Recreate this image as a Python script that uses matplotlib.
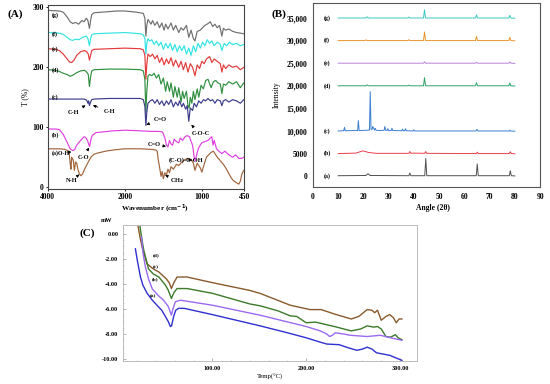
import numpy as np
import matplotlib
matplotlib.use("Agg")
import matplotlib.pyplot as plt
from matplotlib.ticker import FixedLocator, MultipleLocator, FuncFormatter

plt.rcParams['font.family'] = ['Liberation Serif', 'DejaVu Serif']
plt.rcParams['font.weight'] = 'bold'
plt.rcParams['axes.unicode_minus'] = False

# ---------------- (A) FTIR data ----------------
g_w = [3990, 3700, 3600, 3500, 3420, 3350, 3280, 3200, 3120, 3060, 3000, 2960, 2920, 2890, 2860, 2800,
       2600, 2400, 2200, 2000, 1850, 1760, 1740, 1727, 1715, 1700, 1680, 1660, 1640, 1610, 1580, 1550,
       1520, 1490, 1470, 1440, 1400, 1370, 1340, 1300, 1270, 1240, 1200, 1170, 1140, 1110, 1090, 1060,
       1020, 1000, 960, 920, 890, 860, 830, 800, 770, 740, 720, 690, 650, 600, 550, 500, 455]
g_t = [295, 294, 292, 284, 276, 273, 275, 272, 278, 276, 282, 278, 265, 278, 288, 291,
       292, 293, 294, 294, 292, 290, 282, 252, 270, 280, 276, 272, 278, 270, 276, 266,
       274, 262, 272, 264, 274, 262, 270, 258, 266, 262, 270, 250, 262, 248, 244, 260,
       262, 265, 270, 273, 276, 268, 272, 266, 270, 252, 265, 262, 264, 260, 258, 257, 256]

f_w = [3990, 3700, 3600, 3500, 3420, 3350, 3280, 3200, 3100, 3000, 2960, 2920, 2890, 2860, 2800, 2400,
       2000, 1800, 1760, 1740, 1727, 1715, 1700, 1680, 1650, 1620, 1590, 1560, 1530, 1500, 1470, 1440,
       1410, 1380, 1350, 1320, 1290, 1260, 1230, 1200, 1170, 1140, 1110, 1080, 1050, 1020, 990, 960,
       930, 900, 870, 840, 800, 760, 740, 710, 680, 640, 600, 550, 500, 455]
f_t = [258, 257, 255, 250, 246, 245, 247, 246, 250, 252, 248, 236, 248, 254, 256, 257,
       258, 256, 254, 248, 222, 240, 248, 244, 246, 238, 244, 236, 242, 230, 240, 232,
       240, 228, 238, 226, 236, 228, 236, 222, 232, 220, 236, 226, 240, 232, 242, 236,
       246, 240, 244, 236, 242, 238, 228, 240, 236, 242, 238, 240, 236, 238]

e_w = [3990, 3800, 3700, 3600, 3500, 3440, 3380, 3320, 3250, 3150, 3050, 2990, 2950, 2920, 2890, 2860,
       2800, 2400, 2000, 1800, 1760, 1740, 1727, 1715, 1700, 1670, 1640, 1610, 1580, 1550, 1520, 1490,
       1460, 1430, 1400, 1370, 1340, 1300, 1270, 1240, 1210, 1180, 1150, 1120, 1090, 1060, 1030, 1000,
       970, 940, 900, 870, 840, 800, 760, 740, 720, 690, 650, 600, 550, 500, 455]
e_t = [231, 230, 228, 222, 214, 209, 208, 212, 220, 226, 228, 226, 222, 212, 220, 228,
       230, 231, 232, 231, 229, 220, 180, 205, 222, 218, 222, 214, 220, 208, 216, 204,
       214, 206, 216, 202, 212, 200, 210, 196, 208, 192, 206, 200, 186, 204, 198, 210,
       206, 214, 218, 208, 214, 210, 206, 192, 204, 198, 204, 200, 202, 196, 200]

d_w = [3990, 3800, 3700, 3600, 3500, 3420, 3350, 3250, 3150, 3050, 2990, 2950, 2920, 2890, 2860, 2800,
       2400, 2000, 1800, 1760, 1740, 1727, 1715, 1700, 1680, 1650, 1620, 1590, 1560, 1530, 1500, 1470,
       1450, 1420, 1400, 1370, 1350, 1320, 1300, 1270, 1250, 1230, 1200, 1180, 1165, 1150, 1130, 1110,
       1090, 1060, 1040, 1010, 980, 950, 920, 880, 850, 820, 790, 760, 740, 720, 690, 650, 600, 550,
       500, 455]
d_t = [196, 195, 193, 190, 188, 185, 187, 191, 194, 195, 192, 188, 168, 184, 194, 196,
       197, 197, 196, 194, 180, 125, 160, 185, 188, 186, 190, 182, 188, 172, 182, 160,
       176, 160, 174, 150, 168, 150, 166, 142, 160, 148, 160, 136, 132, 150, 140, 160,
       146, 164, 150, 170, 164, 178, 180, 166, 176, 178, 174, 172, 156, 172, 170, 176, 172, 176,
       166, 174]

c_w = [3990, 3500, 3200, 3050, 2990, 2960, 2940, 2920, 2890, 2860, 2800, 2400, 2000, 1800, 1760, 1740,
       1727, 1715, 1700, 1670, 1640, 1610, 1580, 1550, 1520, 1490, 1460, 1430, 1400, 1370, 1340, 1310,
       1290, 1260, 1240, 1210, 1190, 1170, 1150, 1120, 1100, 1070, 1040, 1010, 980, 950, 920, 890,
       860, 830, 800, 760, 740, 720, 690, 650, 600, 550, 500, 455]
c_t = [147, 147, 147, 147, 145, 140, 144, 136, 142, 146, 147, 148, 148, 148, 146, 135,
       103, 125, 140, 144, 146, 140, 146, 138, 144, 136, 144, 138, 146, 134, 142, 136,
       144, 134, 140, 130, 136, 110, 132, 128, 140, 134, 144, 140, 146, 144, 148, 144,
       146, 140, 146, 144, 136, 144, 146, 142, 146, 144, 140, 146]

b_w = [3990, 3800, 3700, 3600, 3500, 3420, 3350, 3300, 3250, 3150, 3060, 3020, 2970, 2930, 2915, 2880,
       2850, 2750, 2600, 2300, 2000, 1800, 1650, 1560, 1510, 1480, 1460, 1440, 1420, 1400, 1380, 1360,
       1330, 1300, 1280, 1250, 1220, 1190, 1160, 1140, 1120, 1100, 1085, 1060, 1040, 1000, 960, 920,
       890, 870, 855, 840, 810, 780, 740, 700, 650, 600, 560, 520, 480, 455]
b_t = [97, 97, 96, 88, 75, 64, 61, 63, 70, 78, 84, 83, 78, 70, 68, 80,
       86, 91, 92, 94, 95, 94, 93, 93, 92, 82, 70, 67, 78, 72, 70, 80,
       76, 74, 82, 78, 84, 86, 84, 76, 70, 50, 44, 58, 66, 74, 76, 78,
       82, 84, 70, 78, 64, 60, 56, 60, 54, 50, 54, 48, 48, 50]

a_w = [3990, 3700, 3560, 3450, 3420, 3400, 3380, 3340, 3310, 3280, 3250, 3220, 3180, 3140, 3100, 3030,
       2950, 2880, 2800, 2700, 2500, 2300, 2000, 1800, 1650, 1600, 1580, 1565, 1545, 1530, 1515, 1500,
       1480, 1460, 1440, 1420, 1400, 1370, 1330, 1300, 1260, 1220, 1180, 1140, 1110, 1090, 1060, 1040,
       1020, 1000, 970, 940, 910, 880, 850, 830, 800, 760, 720, 680, 640, 600, 560, 520, 500, 480, 455]
a_t = [64, 64, 63, 60, 40, 30, 50, 45, 28, 42, 40, 30, 22, 19, 22, 32,
       42, 50, 55, 57, 60, 62, 64, 64, 63, 62, 60, 45, 30, 18, 26, 14,
       24, 20, 30, 24, 34, 30, 38, 36, 42, 46, 48, 46, 40, 28, 40, 36,
       32, 25, 38, 50, 54, 58, 60, 56, 50, 44, 38, 30, 20, 12, 8, 5, 10, 22, 28]

ftir_series = [(g_w, g_t, '#6f6f6f', '(g)', 287),
               (f_w, f_t, '#33e3e3', '(f)', 256),
               (e_w, e_t, '#e23a3a', '(e)', 230),
               (d_w, d_t, '#2f8f3f', '(d)', 195),
               (c_w, c_t, '#3c3c8c', '(c)', 150),
               (b_w, b_t, '#e040e0', '(b)', 86),
               (a_w, a_t, '#a0643c', '(a)O-H', 57)]
ftir_ticks = [4000, 2000, 1000, 450]

# ---------------- (B) XRD data ----------------
xa_x = [10, 21, 21.8, 22.6, 38.0, 38.4, 38.8, 44.3, 44.7, 45.1, 64.7, 65.1, 65.5, 77.8, 78.2, 78.6, 80]
xa_y = [100, 150, 550, 150, 100, 700, 100, 100, 3900, 100, 100, 2700, 100, 100, 1200, 100, 50]
xb_x = [10, 17, 19.8, 22, 25, 38.0, 38.4, 38.8, 40, 44.3, 44.7, 45.1, 64.7, 65.1, 65.5, 77.8, 78.2, 78.6, 80]
xb_y = [5000, 5100, 5600, 5250, 5050, 5050, 5450, 5050, 5100, 5050, 5450, 5050, 5000, 5300, 5000, 5000, 5400,
        5000, 4950]
xc_x = [10, 12.2, 12.5, 12.8, 17.7, 18.0, 18.3, 21, 22.4, 22.7, 23.0, 23.4, 23.7, 24.4, 24.7, 25.0, 27, 28.2,
        28.5, 28.8, 29.4, 29.7, 30.0, 31.0, 31.3, 31.6, 35.2, 35.5, 35.8, 36.4, 36.7, 37.0, 39.6, 39.9, 40.2,
        64.6, 65.0, 65.4, 77.8, 78.1, 78.4, 80]
xc_y = [10000, 10050, 10800, 10050, 10100, 12300, 10100, 10150, 10200, 18700, 10400, 10300, 11000, 10200, 10600,
        10150, 10100, 10150, 11000, 10150, 10100, 10500, 10100, 10100, 10600, 10100, 10050, 10400, 10050, 10050,
        10500, 10050, 10000, 10250, 10000, 10000, 10350, 10000, 10000, 10150, 10000, 9950]
xd_x = [10, 21, 21.5, 22, 37.6, 38, 38.4, 43.8, 44.2, 44.6, 64.4, 64.8, 65.2, 77.6, 78.0, 78.4, 80]
xd_y = [20000, 20000, 20200, 20000, 20000, 20150, 20000, 20000, 21800, 20000, 20000, 20700, 20000, 20000, 20600,
        20000, 19950]
xe_x = [10, 43.8, 44.2, 44.6, 64.4, 64.8, 65.2, 77.6, 78.0, 78.4, 80]
xe_y = [25000, 25000, 25300, 25000, 25000, 25200, 25000, 25000, 25250, 25000, 24950]
xf_x = [10, 20.5, 21, 21.5, 37.6, 38, 38.4, 43.8, 44.2, 44.6, 64.4, 64.8, 65.2, 77.6, 78.0, 78.4, 80]
xf_y = [30000, 30000, 30150, 30000, 30000, 30200, 30000, 30000, 31900, 30000, 30000, 30900, 30000, 30000, 30700,
        30000, 29950]
xg_x = [10, 21, 21.5, 22, 37.6, 38, 38.4, 43.8, 44.2, 44.6, 64.4, 64.8, 65.2, 77.6, 78.0, 78.4, 80]
xg_y = [35000, 35000, 35250, 35000, 35000, 35200, 35000, 35000, 36800, 35000, 35000, 35700, 35000, 35000, 35600,
        35000, 34950]

xrd_series = [(xa_x, xa_y, '#505050', '(a)', 0),
              (xb_x, xb_y, '#ea3f4a', '(b)', 5000),
              (xc_x, xc_y, '#3a7fd2', '(c)', 10000),
              (xd_x, xd_y, '#2ea36a', '(d)', 20000),
              (xe_x, xe_y, '#b682d8', '(e)', 25000),
              (xf_x, xf_y, '#e8952e', '(f)', 30000),
              (xg_x, xg_y, '#3cc8c0', '(g)', 35000)]
xrd_yticks = [0, 5000, 10000, 15000, 20000, 25000, 30000, 35000]
xrd_ylabels = ['0', '5000', '10,000', '15,000', '20,000', '25,000', '30,000', '35,000']

# ---------------- (C) DSC data ----------------
ta = [18, 20, 23.4, 26, 30.5, 36, 41, 46, 50, 53, 55.3, 56.5, 58.8, 61, 64, 70, 76, 100, 151, 180, 200, 215,
      222, 235, 245, 254, 260, 265, 270, 275, 289, 302]
ma = [-1.2, -2.1, -3.45, -4.1, -4.75, -5.3, -5.7, -6.1, -6.6, -7.0, -7.4, -7.35, -6.6, -6.1, -5.95, -5.95, -6.05,
      -6.45, -7.35, -7.9, -8.3, -8.65, -8.8, -8.85, -9.1, -9.3, -9.2, -9.05, -9.2, -9.5, -9.7, -10.1]
tb = [24.5, 26, 28.7, 32, 36, 42, 48, 53, 55, 56.4, 58, 60.6, 66, 100, 151, 200, 215, 222, 225, 228, 231, 240,
      247, 265, 279, 290, 302]
mb = [-0.24, -1.5, -2.65, -3.6, -4.4, -4.9, -5.3, -5.8, -6.2, -6.5, -6.0, -5.42, -5.3, -5.7, -6.5, -7.4, -7.75,
      -8.0, -8.2, -8.1, -7.9, -8.0, -8.1, -8.2, -8.1, -8.3, -8.5]
tc = [21, 22.7, 25, 27, 32, 37, 43, 50, 53, 56.4, 59, 62.4, 73, 100, 140, 151, 170, 183, 190, 200, 210, 230,
      248, 258, 265, 272, 276, 280, 285, 290, 295, 298, 302]
mc = [2.0, 0.7, -0.5, -1.35, -2.8, -3.2, -3.45, -4.1, -4.5, -5.16, -4.7, -4.37, -4.37, -4.75, -5.6, -5.75,
      -6.15, -6.55, -6.6, -7.1, -7.05, -7.4, -7.75, -7.6, -7.35, -7.45, -7.4, -7.6, -8.2, -8.25, -8.05, -8.3,
      -8.45]
td = [19, 20.6, 23, 25.2, 30.5, 37, 43, 51, 54, 56.4, 59, 62.4, 73, 100, 140, 151, 183, 204, 216, 230, 248,
      256, 265, 270, 273, 276, 280, 285, 289, 293, 296, 299, 302]
md = [2.5, 0.7, -0.3, -1.08, -2.4, -2.8, -3.05, -3.6, -3.9, -4.37, -3.9, -3.45, -3.45, -3.9, -4.52, -4.76,
      -5.7, -6.05, -6.05, -6.4, -6.8, -6.6, -6.05, -6.1, -6.3, -6.1, -6.9, -6.6, -6.45, -6.7, -7.1, -6.8, -6.8]

dsc_series = [(td, md, '#8a5a2e', '(d)', 37, -1.7),
              (tc, mc, '#3c7a2a', '(c)', 36, -2.65),
              (tb, mb, '#9a6af0', '(b)', 35, -3.6),
              (ta, ma, '#3030d0', '(a)', 33, -5.0)]

fig = plt.figure(figsize=(5.5, 3.84), dpi=100)
fs = 5.5

# ---------- panel A ----------
def fwd(w):
    w = np.asarray(w, dtype=float)
    return np.where(w >= 2000, w, 2 * w - 2000)

def inv(v):
    v = np.asarray(v, dtype=float)
    return np.where(v >= 2000, v, (v + 2000) / 2)

axA = fig.add_axes([0.087, 0.508, 0.357, 0.479])
axA.set_xscale('function', functions=(fwd, inv))
for w, t, col, lab, ly in ftir_series:
    axA.plot(w, t, color=col, lw=0.85)
    axA.text(3900, ly, lab, fontsize=4.2, va='center', ha='left')
axA.set_xlim(4000, 450)
axA.set_ylim(-3, 304)
axA.xaxis.set_major_locator(FixedLocator(ftir_ticks))
axA.xaxis.set_minor_locator(FixedLocator([]))
axA.xaxis.set_major_formatter(FuncFormatter(lambda v, p: '%d' % round(v)))
axA.set_yticks([0, 100, 200, 300])
axA.tick_params(labelsize=fs, length=1.5, width=0.6, pad=1.5)
for s in axA.spines.values():
    s.set_color('#444444')
    s.set_linewidth(0.8)
axA.set_ylabel('T (%)', fontsize=fs, labelpad=2)

arr = dict(arrowstyle='-|>', color='black', lw=0.6, mutation_scale=4)
notes = [('C-H', (3490, 124), (2960, 139)),
         ('C-H', (2560, 127), (2900, 138)),
         ('C=O', (1630, 113), (1722, 104)),
         ('C-O-C', (1130, 89), (1165, 107)),
         ('C=O', (1700, 71), (1465, 68)),
         ('(C-O)-C-OH', (1430, 45), (1090, 46)),
         ('CH$_2$', (1410, 11), (1478, 20)),
         ('C-O', (3230, 50), (2930, 66)),
         ('N-H', (3540, 11), (3180, 21))]
for txt, xyt, xy in notes:
    axA.annotate(txt, xy=xy, xytext=xyt, fontsize=4.6, ha='left', va='center', arrowprops=arr)
axA.annotate('', xy=(3320, 60), xytext=(3530, 57), arrowprops=arr)
fig.text(155 / 550, 1 - 209 / 384, 'Wavenumber (cm$^{-1}$)', fontsize=5.2, ha='center', va='center')
fig.text(8 / 550, 1 - 14 / 384, '(A)', fontsize=8, ha='left', va='center')

# ---------- panel B ----------
axB = fig.add_axes([0.569, 0.513, 0.413, 0.479])
for x, y, col, lab, base in xrd_series:
    axB.plot(x, y, color=col, lw=0.7)
    axB.text(4.2, base, lab, fontsize=4.2, va='center', ha='left')
axB.set_xlim(0, 90)
axB.set_ylim(-2400, 38300)
axB.set_xticks(range(0, 91, 10))
axB.set_yticks(xrd_yticks)
axB.set_yticklabels(xrd_ylabels)
axB.tick_params(labelsize=fs, length=0, pad=4)
for s in axB.spines.values():
    s.set_color('#555555')
    s.set_linewidth(0.8)
axB.set_ylabel('Intensity', fontsize=fs, labelpad=4)
fig.text(433 / 550, 1 - 208 / 384, 'Angle (2θ)', fontsize=fs, ha='center', va='center')
fig.text(272 / 550, 1 - 14 / 384, '(B)', fontsize=8, ha='left', va='center')

# ---------- panel C ----------
axC = fig.add_axes([0.224, 0.060, 0.534, 0.354])
for t, m, col, lab, lx, ly in dsc_series:
    axC.plot(t, m, color=col, lw=1.0)
    axC.text(lx, ly, lab, fontsize=3.8, va='center', ha='left')
axC.set_xlim(5, 318)
axC.set_ylim(-10.15, 0.7)
axC.set_xticks([100, 200, 300])
axC.xaxis.set_minor_locator(MultipleLocator(20))
axC.set_yticks([0, -2, -4, -6, -8, -10])
axC.yaxis.set_minor_locator(MultipleLocator(0.5))
axC.xaxis.set_major_formatter(FuncFormatter(lambda v, p: '%.2f' % v))
axC.yaxis.set_major_formatter(FuncFormatter(lambda v, p: '%.2f' % v))
axC.tick_params(labelsize=4.5, length=2, width=0.5, direction='in', color='#999999')
axC.tick_params(which='minor', length=1, width=0.4, direction='in', color='#aaaaaa')
for s in axC.spines.values():
    s.set_color('#bbbbbb')
    s.set_linewidth(0.7)
axC.set_xlabel('Temp(°C)', fontsize=4.8, labelpad=2)
fig.text(107 / 550, 1 - 220 / 384, 'mW', fontsize=4.5, ha='center', va='center')
fig.text(80 / 550, 1 - 233 / 384, '(C)', fontsize=8, ha='left', va='center')

fig.savefig('out.png', dpi=100)
